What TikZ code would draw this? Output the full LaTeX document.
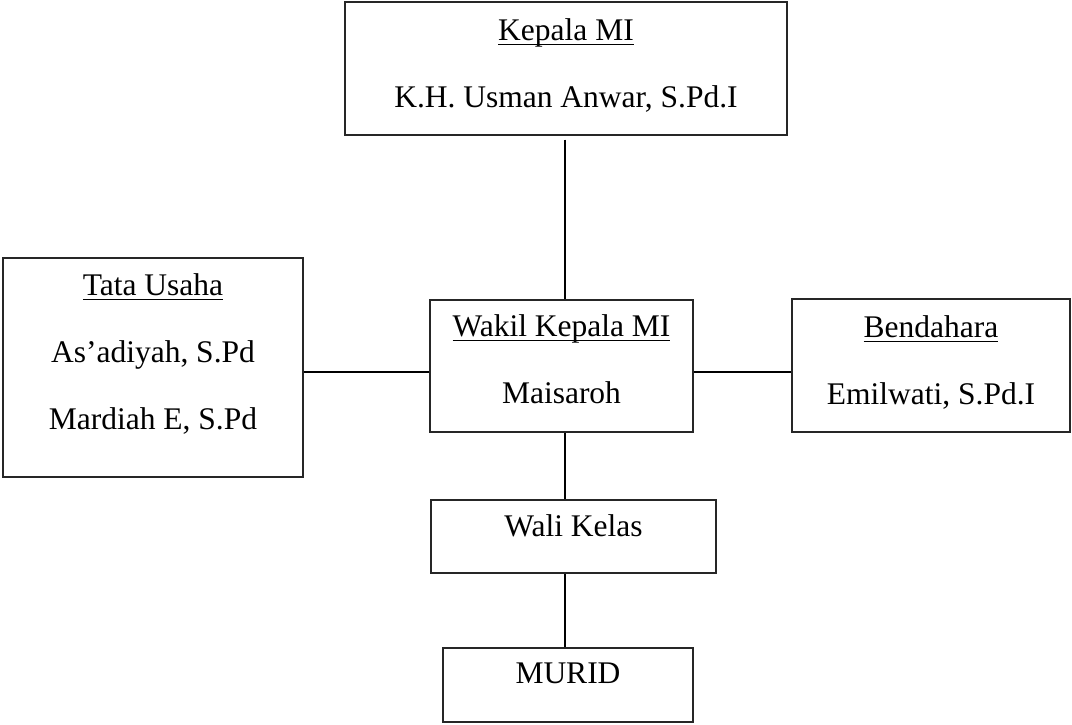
\documentclass[tikz,border=0pt]{standalone}
\usepackage{amsmath}
\usepackage{fontspec}
\setmainfont{Liberation Serif}
\usetikzlibrary{positioning}

\newcommand{\jab}[1]{\underline{\smash[b]{#1}}}

\begin{document}
\begin{tikzpicture}[x=0.5pt,y=-0.5pt,
  jbox/.style 2 args={draw=black!85,line width=0.6pt,minimum width=#1,minimum height=#2,inner sep=0pt},
  jtext/.style={align=center,inner sep=0pt,font=\fontsize{15.75}{33.5}\selectfont},
  link/.style={line width=1pt}]
\useasboundingbox (0,0) rectangle (1072,724);
% kotak jabatan
\node[jbox={221pt}{66.5pt}] (kepala) at (566,68.5) {};
\node[jbox={150pt}{109.5pt}] (tatausaha) at (153,367.5) {};
\node[jbox={131.5pt}{66pt}] (wakil) at (561.5,366) {};
\node[jbox={139pt}{66.5pt}] (bendahara) at (931,365.5) {};
\node[jbox={142.5pt}{36.5pt}] (walikelas) at (573.5,536.5) {};
\node[jbox={125pt}{37pt}] (murid) at (568,685) {};
% isi kotak
\node[jtext,below=8.2pt of kepala.north] (kepala-t)
   {\jab{Kepala MI}\\K.H. Usman Anwar, S.Pd.I};
\node[jtext,below=7.7pt of tatausaha.north] (tatausaha-t)
   {\jab{Tata Usaha}\\As’adiyah, S.Pd\\Mardiah E, S.Pd};
\node[jtext,below=7.2pt of wakil.north] (wakil-t)
   {\jab{Wakil Kepala MI}\\Maisaroh};
\node[jtext,below=8.5pt of bendahara.north] (bendahara-t)
   {\jab{Bendahara}\\Emilwati, S.Pd.I};
\node[jtext,below=7.2pt of walikelas.north] (walikelas-t) {Wali Kelas};
\node[jtext,below=7.6pt of murid.north] (murid-t) {MURID};
% garis
\coordinate (spine) at (565,372);
\draw[link,shorten <=2pt] (kepala.south -| spine) -- (wakil.north -| spine);
\draw[link] (tatausaha.east |- spine) -- (wakil.west |- spine);
\draw[link] (wakil.east |- spine) -- (bendahara.west |- spine);
\draw[link] (wakil.south -| spine) -- (walikelas.north -| spine);
\draw[link] (walikelas.south -| spine) -- (murid.north -| spine);
\end{tikzpicture}
\end{document}
